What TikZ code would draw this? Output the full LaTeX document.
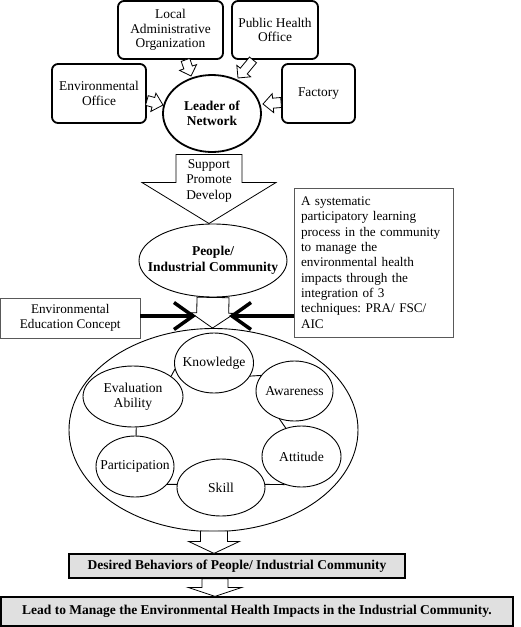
\documentclass[tikz,border=0pt]{standalone}
\usepackage{fontspec}
\setmainfont{Liberation Serif}
\frenchspacing
\usetikzlibrary{calc,arrows.meta,shapes.geometric}
\newcommand\blockarrow[5]{% from, to, shaft half, head half, head length
  \coordinate (ba-h) at ($(#2)!#5!(#1)$);
  \draw[hollow] ($(#1)!#3!90:(#2)$) -- ($(ba-h)!#3!90:(#2)$) -- ($(ba-h)!#4!90:(#2)$) -- (#2)
    -- ($(ba-h)!#4!-90:(#2)$) -- ($(ba-h)!#3!-90:(#2)$) -- ($(#1)!#3!-90:(#2)$) -- cycle;
}
\begin{document}
\begin{tikzpicture}[x=1pt,y=-1pt,
  txt/.style={font=\fontsize{13.4}{14.7}\selectfont,align=center},
  btxt/.style={font=\fontsize{13.5}{15.5}\selectfont\bfseries,align=center},
  intxt/.style={font=\fontsize{13.6}{15.5}\selectfont,align=center},
  topbox/.style={draw,line width=1.8pt,rounded corners=6pt,inner sep=0pt,txt},
  oval/.style={draw,ellipse,inner sep=0pt,line width=0.9pt},
  graybox/.style={draw=black!65,line width=0.8pt,inner sep=0pt},
  resultbox/.style={draw,fill=black!12,line width=1.2pt,inner sep=0pt,btxt},
  hollow/.style={draw,fill=white,line width=0.8pt,line join=miter},
  thickarrow/.style={line width=3.5pt,-{Straight Barb[length=19pt,width=27pt]}},
  link/.style={line width=0.9pt}
]
\useasboundingbox (0,0) rectangle (520,627);

% top organisations
\node[topbox,minimum width=105,minimum height=58] (lao) at (170.5,30) {Local\\Administrative\\Organization};
\node[topbox,minimum width=86,minimum height=58] (pho) at (275,30) {Public Health\\Office};
\node[topbox,minimum width=94,minimum height=59] (envo) at (99,93.5) {Environmental\\Office};
\node[topbox,minimum width=73,minimum height=59] (fact) at (318.5,93.5) {Factory};
\node[oval,line width=1.8pt,minimum width=98,minimum height=77,
      label={[btxt]center:Leader of\\Network}] (leader) at (212,113.5) {};

% small hollow arrows into the leader
\coordinate (a1s) at ($(lao.south)+(15,0)$);
\coordinate (a1e) at (191,76);
\blockarrow{a1s}{a1e}{4.5pt}{9pt}{9pt}
\coordinate (a2s) at ($(pho.south)+(-22,0)$);
\coordinate (a2e) at (238,78);
\blockarrow{a2s}{a2e}{4.5pt}{9pt}{9pt}
\coordinate (a3s) at ($(envo.east)+(0,7)$);
\coordinate (a3e) at (163,105);
\blockarrow{a3s}{a3e}{5pt}{9.5pt}{10pt}
\coordinate (a4s) at ($(fact.west)+(0,9)$);
\coordinate (a4e) at (263,104);
\blockarrow{a4s}{a4e}{5pt}{9.5pt}{10pt}

% support arrow
\coordinate (s1) at ($(leader.south)+(-3,1.5)$);
\coordinate (s2) at (209,223.5);
\blockarrow{s1}{s2}{33pt}{67pt}{41pt}
\node[txt,font=\fontsize{13.4}{15.5}\selectfont] (spd) at (209,180.5) {Support\\Promote\\Develop};

% people
\node[oval,minimum width=148,minimum height=73,
      label={[btxt]center:People/\\Industrial Community}] (people) at (213,260.5) {};

\node[graybox,minimum width=159,minimum height=149,text width=146,align=left,
      font=\fontsize{13.2}{15.35}\selectfont] (proc) at (374,262.5)
  {A systematic\\participatory learning\\process in the community\\to manage the\\environmental health\\impacts through the\\integration of 3\\techniques: PRA/ FSC/\\AIC};
\node[graybox,minimum width=139.5,minimum height=40,txt,font=\fontsize{13.2}{15}\selectfont] (envedu) at (70.25,318)
  {Environmental\\Education Concept};

% big ellipse
\node[oval,minimum width=289,minimum height=203] (big) at (213.5,430) {};

% arrow people -> big
\coordinate (p1) at (people.south);
\coordinate (p2) at ($(big.north)+(-1,0)$);
\blockarrow{p1}{p2}{16pt}{22pt}{15pt}

% thick black arrows
\coordinate (jl) at (196,316);
\coordinate (jr) at (229,316);
\draw[thickarrow] (envedu.east |- jl) -- (jl);
\draw[thickarrow] (proc.west |- jr) -- (jr);

% inner ellipses
\node[oval,minimum width=79,minimum height=60,label={[intxt]center:Knowledge}] (know) at (214,363) {};
\node[oval,minimum width=77,minimum height=60,label={[intxt]center:Awareness}] (aware) at (294.5,391) {};
\node[oval,minimum width=79,minimum height=61,label={[intxt]center:Attitude}] (attit) at (301.5,456.5) {};
\node[oval,minimum width=88,minimum height=57,label={[intxt]center:Skill}] (skill) at (221,487.5) {};
\node[oval,minimum width=78,minimum height=61,label={[intxt]center:Participation}] (partic) at (135,466.5) {};
\node[oval,minimum width=100,minimum height=61,label={[intxt]center:Evaluation\\Ability}] (eval) at (133,396.5) {};

\draw[link] (know.-20) -- (aware.155);
\draw[link] (aware.242) -- (attit.119);
\draw[link] (attit.239) -- (skill.4);
\draw[link] (skill.176) -- (partic.331);
\draw[link] (partic.88) -- (eval.276);
\draw[link] (eval.28) -- (know.189);

% results
\node[resultbox,minimum width=336,minimum height=24] (desired) at (237,566) {Desired Behaviors of People/ Industrial Community};
\node[resultbox,minimum width=512,minimum height=29] (lead) at (257,611.5) {Lead to Manage the Environmental Health Impacts in the Industrial Community.};

\coordinate (b1) at ($(big.south)+(0.5,-1)$);
\coordinate (b2) at (desired.north -| b1);
\blockarrow{b1}{b2}{13.5pt}{25.5pt}{12pt}
\coordinate (c1) at ($(desired.south)+(-22,0)$);
\coordinate (c2) at (lead.north -| c1);
\blockarrow{c1}{c2}{13pt}{27pt}{9pt}
\end{tikzpicture}
\end{document}
